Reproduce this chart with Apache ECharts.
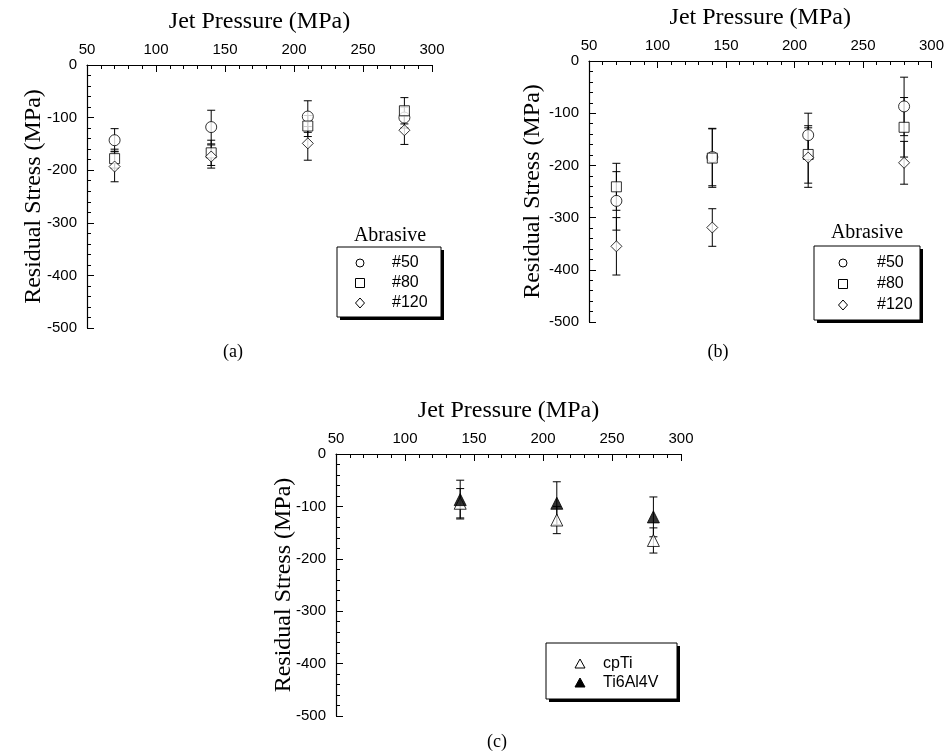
<!DOCTYPE html>
<html>
<head>
<meta charset="utf-8">
<script src="https://cdn.jsdelivr.net/npm/echarts@6/dist/echarts.min.js"></script>
<style>
html,body{margin:0;padding:0;background:#fff;}
#main{width:947px;height:752px;}
</style>
</head>
<body>
<div id="main"></div>
<script>
// ---- data ----
const pressure = [70, 140, 210, 280];
const xTicks = [50, 100, 150, 200, 250, 300];
const yTicks = [0, -100, -200, -300, -400, -500];
// (a)
const a50 = [-143, -118, -98, -100];
const a50Err = [22, 32, 30, 20];
const a80 = [-178, -167, -116, -87];
const a80Err = [18, 24, 20, 25];
const a120 = [-193, -174, -149, -124];
const a120Err = [29, 22, 32, 27];
// (b)
const b50 = [-268, -184, -142, -87];
const b50Err = [56, 55, 42, 56];
const b80 = [-241, -186, -179, -127];
const b80Err = [45, 56, 55, 57];
const b120 = [-355, -319, -185, -195];
const b120Err = [55, 36, 57, 41];
// (c)
const cPressure = [140, 210, 280];
const cpTi = [-94, -126, -165];
const cpTiErr = [28, 26, 24];
const ti64 = [-87, -94, -120];
const ti64Err = [37, 41, 38];

const SANS = '"Liberation Sans", Arial, Helvetica, sans-serif';
const SERIF = '"Liberation Serif", "Times New Roman", serif';

const chart = echarts.init(document.getElementById('main'));

const grids = [
  {left: 87, top: 65, width: 345, height: 263},
  {left: 589, top: 61, width: 345, height: 261},
  {left: 336, top: 454, width: 345, height: 262}
];
const yNameGaps = [41, 44, 40];

function xAxis(i) {
  return {
    gridIndex: i, type: 'value', position: 'top', min: 50, max: 300, interval: 50,
    name: 'Jet Pressure (MPa)', nameLocation: 'middle', nameGap: 31,
    nameTextStyle: {fontFamily: SERIF, fontSize: 24, color: '#000'},
    axisLine: {show: true, lineStyle: {color: '#000', width: 1.2}},
    axisTick: {show: true, inside: true, length: 7, lineStyle: {color: '#000', width: 1}},
    minorTick: {show: true, splitNumber: 5, length: 4, lineStyle: {color: '#000', width: 1}},
    axisLabel: {fontFamily: SANS, fontSize: 15, color: '#000', margin: 8,
      customValues: xTicks},
    splitLine: {show: false}
  };
}
function yAxis(i) {
  return {
    gridIndex: i, type: 'value', min: -500, max: 0, interval: 100,
    name: 'Residual Stress (MPa)', nameLocation: 'middle', nameGap: yNameGaps[i],
    nameMoveOverlap: false,
    nameTextStyle: {fontFamily: SERIF, fontSize: 24, color: '#000'},
    axisLine: {show: true, onZero: false, lineStyle: {color: '#000', width: 1.2}},
    axisTick: {show: true, inside: true, length: 7, lineStyle: {color: '#000', width: 1}},
    minorTick: {show: true, splitNumber: 5, length: 4, lineStyle: {color: '#000', width: 1}},
    axisLabel: {fontFamily: SANS, fontSize: 15, color: '#000', margin: 10,
      customValues: yTicks},
    splitLine: {show: false}
  };
}

function errSeries(name, xs, ys, errs, gi) {
  return {
    name: name + ' err', type: 'custom', xAxisIndex: gi, yAxisIndex: gi,
    silent: true, z: 1,
    data: xs.map((x, k) => [x, ys[k] - errs[k], ys[k] + errs[k]]),
    renderItem: function (params, api) {
      const x = api.value(0), lo = api.value(1), hi = api.value(2);
      const p1 = api.coord([x, hi]);
      const p2 = api.coord([x, lo]);
      const w = 4;
      const st = {stroke: '#000', lineWidth: 1};
      return {type: 'group', children: [
        {type: 'line', shape: {x1: p1[0], y1: p1[1], x2: p2[0], y2: p2[1]}, style: st},
        {type: 'line', shape: {x1: p1[0] - w, y1: p1[1], x2: p1[0] + w, y2: p1[1]}, style: st},
        {type: 'line', shape: {x1: p2[0] - w, y1: p2[1], x2: p2[0] + w, y2: p2[1]}, style: st}
      ]};
    }
  };
}
function ptSeries(name, xs, ys, symbol, size, gi, filled) {
  return {
    name: name, type: 'scatter', xAxisIndex: gi, yAxisIndex: gi, z: 3,
    symbol: symbol, symbolSize: size,
    itemStyle: {color: filled ? '#000' : '#fff', borderColor: '#000', borderWidth: 1},
    data: xs.map((x, k) => [x, ys[k]])
  };
}

const series = [
  errSeries('a50', pressure, a50, a50Err, 0),
  errSeries('a80', pressure, a80, a80Err, 0),
  errSeries('a120', pressure, a120, a120Err, 0),
  ptSeries('(a) #50', pressure, a50, 'circle', 11, 0),
  ptSeries('(a) #80', pressure, a80, 'rect', 10, 0),
  ptSeries('(a) #120', pressure, a120, 'diamond', 11, 0),
  errSeries('b50', pressure, b50, b50Err, 1),
  errSeries('b80', pressure, b80, b80Err, 1),
  errSeries('b120', pressure, b120, b120Err, 1),
  ptSeries('(b) #50', pressure, b50, 'circle', 11, 1),
  ptSeries('(b) #80', pressure, b80, 'rect', 10, 1),
  ptSeries('(b) #120', pressure, b120, 'diamond', 11, 1),
  errSeries('cpTi', cPressure, cpTi, cpTiErr, 2),
  errSeries('Ti6Al4V', cPressure, ti64, ti64Err, 2),
  ptSeries('cpTi', cPressure, cpTi, 'triangle', 12, 2, false),
  ptSeries('Ti6Al4V', cPressure, ti64, 'triangle', 12, 2, true)
];

function legendBox(x, y, w, h) {
  return [
    {type: 'rect', shape: {x: x + 3, y: y + 3, width: w, height: h}, style: {fill: '#000'}},
    {type: 'rect', shape: {x: x, y: y, width: w, height: h}, style: {fill: '#fff', stroke: '#000', lineWidth: 1}}
  ];
}
function txt(x, y, s, font, size, align) {
  return {type: 'text', x: x, y: y, style: {text: s, fontFamily: font, fontSize: size, fill: '#000',
    align: align || 'left', verticalAlign: 'middle'}};
}
function circleG(x, y) { return {type: 'circle', shape: {cx: x, cy: y, r: 4}, style: {fill: '#fff', stroke: '#000', lineWidth: 1}}; }
function rectG(x, y) { return {type: 'rect', shape: {x: x - 4.5, y: y - 4.5, width: 9, height: 9}, style: {fill: '#fff', stroke: '#000', lineWidth: 1}}; }
function diamondG(x, y) { return {type: 'polygon', shape: {points: [[x, y - 5], [x + 4.5, y], [x, y + 5], [x - 4.5, y]]}, style: {fill: '#fff', stroke: '#000', lineWidth: 1}}; }
function triG(x, y, filled) { return {type: 'polygon', shape: {points: [[x, y - 5], [x + 5, y + 4], [x - 5, y + 4]]}, style: {fill: filled ? '#000' : '#fff', stroke: '#000', lineWidth: 1}}; }

const graphics = [].concat(
  // legend (a)
  [txt(390, 236, 'Abrasive', SERIF, 20, 'center')],
  legendBox(337, 247, 104, 70),
  [circleG(360, 263), rectG(360, 283), diamondG(360, 303),
   txt(392, 263, '#50', SANS, 16), txt(392, 283, '#80', SANS, 16), txt(392, 303, '#120', SANS, 16)],
  // legend (b)
  [txt(867, 233, 'Abrasive', SERIF, 20, 'center')],
  legendBox(814, 246, 106, 74),
  [circleG(843, 263), rectG(843, 284), diamondG(843, 305),
   txt(877, 263, '#50', SANS, 16), txt(877, 284, '#80', SANS, 16), txt(877, 305, '#120', SANS, 16)],
  // legend (c)
  legendBox(546, 643, 131, 56),
  [triG(580, 664, false), triG(580, 683, true),
   txt(603, 664, 'cpTi', SANS, 16), txt(603, 683, 'Ti6Al4V', SANS, 16)],
  // sub labels
  [txt(233, 352, '(a)', SERIF, 18, 'center'), txt(718, 352, '(b)', SERIF, 18, 'center'),
   txt(497, 742, '(c)', SERIF, 18, 'center')]
);

chart.setOption({
  animation: false,
  backgroundColor: '#fff',
  grid: grids,
  xAxis: [xAxis(0), xAxis(1), xAxis(2)],
  yAxis: [yAxis(0), yAxis(1), yAxis(2)],
  series: series,
  graphic: graphics
});
</script>
</body>
</html>
